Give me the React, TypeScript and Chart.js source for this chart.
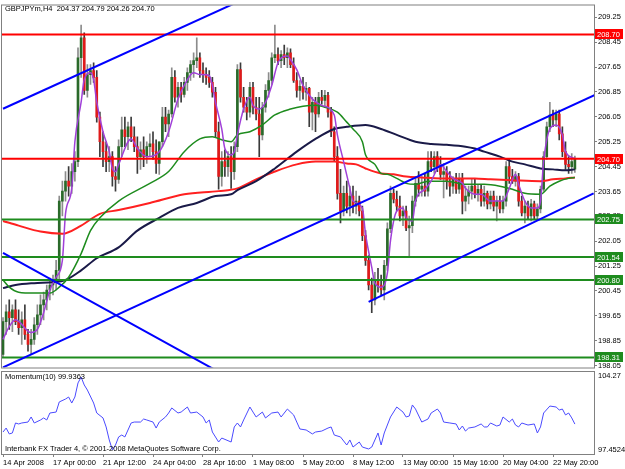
import React, { useEffect, useRef } from "react";
import { Chart, registerables } from "chart.js";

Chart.register(...registerables);

const FONT = '"Liberation Sans", Arial, sans-serif';

const symbolTitle = "GBPJPYm,H4  204.37 204.79 204.26 204.70";
const momentumTitle = "Momentum(10) 99.9363";
const copyrightText = "Interbank FX Trader 4, \u00a9 2001-2008 MetaQuotes Software Corp.";

const dateLabels = [
  "14 Apr 2008", "17 Apr 00:00", "21 Apr 12:00", "24 Apr 04:00", "28 Apr 16:00", "1 May 08:00",
  "5 May 20:00", "8 May 12:00", "13 May 00:00", "15 May 16:00", "20 May 04:00", "22 May 20:00",
];
const dateBars = [0, 16, 32, 48, 64, 80, 96, 112, 128, 144, 160, 176];

const priceTicks = [
  209.25, 208.45, 207.65, 206.85, 206.05, 205.25, 204.45, 203.65,
  202.85, 202.05, 201.25, 200.45, 199.65, 198.85, 198.05,
];
const priceMin = 197.986;
const priceMax = 209.632;
const barMin = -0.32;
const barMax = 189.12;

// [open, high, low, close] per H4 bar
const ohlc: number[][] = [
  [198.41, 199.59, 198.30, 199.46], [199.46, 200.00, 199.05, 199.78], [199.78, 200.16, 199.21, 199.59],
  [199.59, 200.00, 199.14, 199.84], [199.84, 200.16, 199.36, 199.46], [199.46, 199.84, 199.05, 199.27],
  [199.27, 199.78, 198.73, 199.52], [199.52, 200.00, 198.89, 199.05], [199.05, 199.21, 198.51, 198.73],
  [198.73, 199.21, 198.41, 198.89], [198.89, 199.59, 198.73, 199.36], [199.36, 200.00, 199.05, 199.68],
  [199.68, 200.32, 199.36, 200.00], [200.00, 200.41, 199.52, 200.16], [200.16, 200.64, 199.84, 200.48],
  [200.48, 200.86, 200.16, 200.64], [200.64, 200.96, 200.32, 200.80], [200.80, 201.43, 200.48, 201.11],
  [201.11, 203.50, 200.80, 203.34], [203.34, 203.98, 202.86, 203.66], [203.66, 204.29, 203.34, 203.98],
  [203.98, 204.45, 203.50, 203.82], [203.82, 204.55, 203.59, 204.29], [204.29, 204.93, 203.98, 204.61],
  [204.61, 208.27, 204.45, 207.95], [207.95, 209.00, 207.32, 208.59], [208.59, 208.75, 206.77, 206.90],
  [206.90, 207.73, 206.68, 207.41], [207.41, 207.73, 207.09, 207.54], [207.54, 207.79, 207.16, 207.32],
  [207.32, 207.54, 205.88, 206.04], [206.04, 206.20, 204.77, 205.25], [205.25, 205.57, 204.45, 204.93],
  [204.93, 205.25, 204.29, 204.61], [204.61, 205.09, 204.29, 204.77], [204.77, 204.93, 203.82, 204.13],
  [204.13, 204.45, 203.66, 204.04], [204.04, 205.31, 203.91, 205.09], [205.09, 206.04, 204.77, 205.63],
  [205.63, 206.04, 205.09, 205.41], [205.41, 205.88, 204.99, 205.73], [205.73, 206.04, 205.25, 205.41],
  [205.41, 205.73, 204.93, 205.09], [205.09, 205.41, 204.23, 204.77], [204.77, 205.25, 204.36, 204.99],
  [204.99, 205.41, 204.45, 204.77], [204.77, 205.25, 204.55, 205.09], [205.09, 205.50, 204.77, 205.18],
  [205.18, 205.57, 204.68, 204.93], [204.93, 205.31, 204.23, 204.55], [204.55, 205.25, 204.20, 205.25],
  [205.25, 206.36, 205.09, 206.04], [206.04, 206.36, 205.57, 205.82], [205.82, 206.27, 205.41, 206.14],
  [206.14, 207.63, 206.04, 207.32], [207.32, 207.54, 206.52, 206.68], [206.68, 207.16, 206.36, 207.00],
  [207.00, 207.16, 206.52, 206.77], [206.77, 207.32, 206.68, 207.16], [207.16, 207.63, 206.90, 207.47],
  [207.47, 207.86, 207.22, 207.73], [207.73, 208.11, 207.32, 207.86], [207.86, 208.59, 207.63, 207.95],
  [207.95, 208.11, 207.32, 207.54], [207.54, 207.79, 207.16, 207.41], [207.41, 207.63, 207.09, 207.32],
  [207.32, 207.54, 207.00, 207.16], [207.16, 207.32, 206.68, 206.84], [206.84, 207.00, 205.41, 205.57],
  [205.57, 205.88, 203.72, 204.13], [204.13, 204.93, 203.82, 204.61], [204.61, 204.99, 204.13, 204.45],
  [204.45, 204.93, 204.13, 204.77], [204.77, 205.09, 203.75, 204.29], [204.29, 205.25, 204.04, 205.09],
  [205.09, 207.73, 204.93, 207.57], [207.57, 207.79, 206.52, 206.68], [206.68, 207.00, 206.20, 206.36],
  [206.36, 206.68, 205.95, 206.20], [206.20, 207.16, 206.04, 207.00], [207.00, 207.16, 206.14, 206.36],
  [206.36, 206.68, 205.95, 206.14], [206.14, 206.68, 204.77, 205.47], [205.47, 206.52, 205.31, 206.36],
  [206.36, 207.09, 206.20, 206.90], [206.90, 207.47, 206.68, 207.22], [207.22, 208.11, 207.09, 207.95],
  [207.95, 209.00, 207.79, 208.05], [208.05, 208.27, 207.73, 207.86], [207.86, 208.18, 207.63, 208.05],
  [208.05, 208.36, 207.73, 207.95], [207.95, 208.27, 207.63, 208.11], [208.11, 208.24, 207.63, 207.73],
  [207.73, 207.95, 207.16, 207.22], [207.22, 207.47, 206.68, 206.90], [206.90, 207.22, 206.58, 207.03],
  [207.03, 207.32, 206.62, 206.84], [206.84, 207.16, 206.58, 206.97], [206.97, 207.00, 205.73, 206.20],
  [206.20, 206.68, 205.63, 206.52], [206.52, 206.68, 205.57, 206.14], [206.14, 206.84, 206.04, 206.68],
  [206.68, 206.90, 206.46, 206.58], [206.58, 206.90, 206.36, 206.74], [206.74, 206.84, 206.04, 206.20],
  [206.20, 206.36, 205.41, 205.57], [205.57, 205.73, 204.61, 204.77], [204.77, 205.09, 203.40, 203.59],
  [203.59, 204.36, 202.64, 203.02], [203.02, 203.82, 202.86, 203.59], [203.59, 203.98, 202.96, 203.18],
  [203.18, 203.82, 202.86, 203.50], [203.50, 203.82, 202.96, 203.18], [203.18, 203.66, 202.93, 203.34],
  [203.34, 203.50, 202.86, 203.02], [203.02, 203.18, 202.07, 202.23], [202.23, 202.39, 201.27, 201.43],
  [201.43, 201.59, 200.48, 200.64], [200.64, 200.86, 199.75, 200.16], [200.16, 201.05, 200.00, 200.80],
  [200.80, 201.18, 200.41, 200.64], [200.64, 200.96, 200.32, 200.48], [200.48, 201.43, 200.16, 201.27],
  [201.27, 202.64, 201.11, 202.45], [202.45, 203.82, 202.32, 203.59], [203.59, 203.72, 203.28, 203.40],
  [203.40, 203.66, 203.02, 203.18], [203.18, 203.50, 202.70, 202.86], [202.86, 203.18, 202.55, 203.02],
  [203.02, 203.18, 202.39, 202.48], [202.48, 202.86, 201.53, 202.55], [202.55, 203.50, 202.32, 203.34],
  [203.34, 204.13, 203.18, 203.91], [203.91, 204.29, 203.50, 203.72], [203.72, 204.13, 203.50, 203.82],
  [203.82, 204.23, 203.50, 203.66], [203.66, 204.93, 203.50, 204.61], [204.61, 204.93, 204.29, 204.45],
  [204.45, 204.93, 204.23, 204.77], [204.77, 204.93, 204.29, 204.45], [204.45, 204.77, 204.04, 204.20],
  [204.20, 204.55, 203.44, 204.29], [204.29, 204.45, 203.72, 203.98], [203.98, 204.29, 203.50, 203.82],
  [203.82, 204.13, 203.59, 204.04], [204.04, 204.23, 203.59, 203.72], [203.72, 204.23, 203.59, 204.07],
  [204.07, 204.23, 202.93, 203.34], [203.34, 203.82, 203.02, 203.50], [203.50, 203.82, 203.25, 203.66],
  [203.66, 204.04, 203.40, 203.82], [203.82, 204.04, 203.44, 203.59], [203.59, 203.88, 203.34, 203.72],
  [203.72, 203.88, 203.18, 203.34], [203.34, 203.82, 203.18, 203.59], [203.59, 203.66, 203.09, 203.25],
  [203.25, 203.66, 203.09, 203.50], [203.50, 203.66, 203.02, 203.18], [203.18, 203.50, 202.70, 203.34],
  [203.34, 203.50, 202.96, 203.09], [203.09, 203.50, 202.96, 203.34], [203.34, 204.61, 203.18, 204.45],
  [204.45, 204.68, 203.91, 204.13], [204.13, 204.36, 203.91, 203.98], [203.98, 204.29, 203.82, 204.13],
  [204.13, 204.23, 203.18, 203.34], [203.34, 203.50, 202.86, 202.96], [202.96, 203.34, 202.64, 203.18],
  [203.18, 203.34, 202.77, 202.86], [202.86, 203.40, 202.70, 203.25], [203.25, 203.34, 202.77, 202.86],
  [202.86, 203.25, 202.77, 203.09], [203.09, 203.82, 202.96, 203.72], [203.72, 204.93, 203.66, 204.77],
  [204.77, 205.88, 204.68, 205.73], [205.73, 206.52, 205.57, 206.11], [206.11, 206.27, 205.73, 205.95],
  [205.95, 206.27, 205.73, 206.14], [206.14, 206.27, 205.31, 205.50], [205.50, 205.73, 204.77, 204.93],
  [204.93, 205.25, 204.36, 204.52], [204.52, 204.77, 204.23, 204.45], [204.45, 204.87, 204.23, 204.61],
  [204.37, 204.79, 204.26, 204.70],
];

// moving averages: [bar, price]
const maFast: number[][] = [
  [0, 198.89], [2, 199.30], [4, 199.52], [9, 199.11], [11, 199.21], [13, 199.75], [15, 200.48], [17, 200.89],
  [19, 201.43], [20, 202.93], [22, 203.75], [23, 205.25], [25, 206.52], [26, 207.25], [28, 207.47], [29, 207.25],
  [30, 206.52], [32, 205.57], [34, 204.93], [35, 204.39], [36, 204.29], [37, 204.52], [41, 205.34], [43, 205.03],
  [46, 204.77], [50, 204.93], [53, 205.57], [56, 206.62], [58, 207.06], [61, 207.47], [63, 207.41], [66, 207.38],
  [67, 207.06], [68, 206.52], [70, 205.66], [71, 205.03], [73, 204.83], [74, 204.93], [75, 205.47], [77, 206.30],
  [79, 206.68], [80, 206.42], [82, 206.30], [84, 206.52], [86, 207.06], [88, 207.79], [91, 208.01], [92, 207.89],
  [94, 207.57], [96, 207.06], [99, 206.62], [102, 206.42], [106, 206.11], [107, 205.47], [109, 204.61], [111, 203.75],
  [112, 203.34], [115, 203.12], [116, 202.29], [118, 201.21], [119, 200.70], [121, 200.57], [123, 201.02], [124, 202.07],
  [126, 203.02], [128, 203.12], [129, 202.80], [131, 202.70], [132, 203.34], [135, 203.72], [137, 203.98], [139, 204.39],
  [140, 204.52], [142, 204.29], [144, 204.07], [147, 203.91], [148, 203.75], [151, 203.56], [153, 203.56], [156, 203.34],
  [160, 203.34], [162, 203.75], [164, 204.20], [165, 203.88], [167, 203.34], [169, 203.12], [171, 203.12], [172, 203.34],
  [173, 204.61], [175, 205.66], [177, 205.79], [179, 205.47], [180, 204.93], [183, 204.71],
];
const maGreen: number[][] = [
  [0, 200.80], [2, 200.57], [5, 200.41], [10, 200.38], [15, 200.38], [18, 200.57], [21, 200.89], [25, 201.65],
  [28, 202.39], [31, 202.80], [37, 203.34], [47, 203.91], [53, 204.29], [58, 204.93], [63, 205.34], [67, 205.41],
  [70, 205.31], [73, 205.25], [75, 205.47], [79, 205.57], [83, 205.79], [87, 206.11], [92, 206.30], [96, 206.39],
  [100, 206.42], [103, 206.36], [107, 206.20], [110, 205.88], [112, 205.66], [115, 205.25], [116, 204.83], [119, 204.52],
  [121, 204.23], [123, 204.20], [126, 204.07], [129, 203.91], [132, 203.88], [136, 203.98], [142, 203.98], [148, 203.88],
  [154, 203.88], [159, 203.82], [163, 203.72], [167, 203.59], [172, 203.56], [175, 203.82], [178, 203.98], [181, 204.07],
  [183, 204.10],
];
const maNavy: number[][] = [
  [0, 200.54], [4, 200.64], [10, 200.70], [16, 200.73], [20, 200.80], [25, 201.11], [30, 201.50], [37, 201.85],
  [43, 202.39], [50, 202.80], [56, 203.12], [62, 203.28], [68, 203.50], [73, 203.56], [75, 203.69], [81, 203.98],
  [87, 204.39], [94, 204.93], [100, 205.34], [106, 205.66], [110, 205.73], [116, 205.79], [121, 205.66], [126, 205.47],
  [132, 205.25], [137, 205.18], [142, 205.15], [148, 205.09], [151, 205.03], [154, 204.93], [159, 204.77], [163, 204.61],
  [167, 204.52], [172, 204.39], [176, 204.36], [180, 204.33], [183, 204.36],
];
const maRed: number[][] = [
  [0, 202.70], [5, 202.55], [12, 202.36], [19, 202.29], [25, 202.55], [31, 202.93], [37, 203.05], [47, 203.28],
  [58, 203.56], [69, 203.66], [75, 203.75], [81, 204.04], [87, 204.29], [94, 204.52], [100, 204.61], [106, 204.61],
  [110, 204.55], [113, 204.52], [116, 204.39], [121, 204.23], [125, 204.20], [129, 204.13], [134, 204.10], [140, 204.07],
  [151, 204.07], [156, 204.04], [163, 204.01], [172, 203.98], [176, 204.04], [180, 204.07], [183, 204.10],
];

// trend lines: [[bar, price], [bar, price]]
const trendLines: number[][][] = [
  [[0, 206.31], [80, 209.97]],
  [[0, 197.99], [190, 206.78]],
  [[117, 200.10], [189, 203.59]],
  [[0, 201.67], [70, 197.79]],
];

const levels = [208.70, 204.70, 202.75, 201.54, 200.80, 198.31];
const levelColors = ["#ff0000", "#ff0000", "#1e8c1e", "#1e8c1e", "#1e8c1e", "#1e8c1e"];

const momentumMin = 97.4524;
const momentumMax = 104.27;
const momentum: number[][] = [
  [0, 99.28], [1, 99.61], [2, 99.12], [3, 99.20], [4, 100.03], [5, 99.95], [6, 100.03], [8, 100.11], [9, 100.53],
  [10, 100.03], [12, 100.28], [13, 100.45], [14, 100.28], [15, 100.86], [17, 100.94], [18, 101.78], [20, 102.02],
  [21, 102.19], [22, 101.69], [23, 102.19], [24, 103.36], [25, 103.85], [26, 103.19], [27, 102.77], [29, 101.69],
  [30, 100.86], [32, 100.45], [33, 99.70], [34, 98.62], [35, 97.79], [36, 98.20], [37, 98.87], [38, 99.03],
  [39, 98.87], [41, 100.03], [42, 100.11], [44, 100.11], [45, 100.36], [46, 100.28], [48, 100.11], [49, 99.61],
  [50, 100.11], [52, 100.53], [53, 100.86], [54, 101.28], [56, 100.86], [57, 100.94], [59, 101.36], [60, 100.86],
  [62, 100.94], [64, 100.53], [65, 100.03], [66, 100.28], [67, 99.28], [69, 98.45], [70, 98.78], [73, 98.45],
  [74, 99.70], [75, 100.03], [76, 99.70], [77, 100.28], [79, 101.36], [80, 100.94], [81, 100.53], [83, 100.94],
  [84, 100.45], [86, 100.86], [88, 100.94], [89, 100.53], [91, 101.19], [93, 100.70], [94, 100.11], [95, 99.53],
  [97, 99.45], [99, 99.12], [100, 99.28], [102, 99.36], [104, 99.61], [105, 99.70], [106, 99.03], [108, 98.87],
  [110, 98.20], [111, 98.62], [112, 98.03], [114, 98.45], [115, 98.03], [117, 97.87], [118, 98.03], [120, 99.20],
  [121, 98.20], [122, 99.20], [124, 100.53], [126, 101.36], [128, 100.94], [129, 100.53], [130, 100.61], [131, 101.53],
  [132, 101.19], [134, 100.11], [136, 100.36], [137, 100.86], [139, 101.19], [140, 100.86], [141, 100.11], [143, 100.03],
  [145, 99.95], [146, 99.45], [147, 99.78], [148, 99.36], [149, 99.61], [151, 99.70], [153, 99.95], [154, 99.70],
  [155, 99.70], [156, 100.03], [158, 99.78], [159, 99.86], [160, 100.53], [162, 100.11], [163, 100.36], [164, 99.86],
  [165, 99.70], [166, 100.03], [168, 99.86], [170, 99.95], [171, 99.20], [172, 99.70], [173, 100.86], [175, 101.44],
  [177, 101.36], [178, 101.11], [179, 101.19], [180, 100.70], [181, 100.86], [182, 100.45], [183, 99.94],
];

const BULL_BODY = "#2a6a2a";
const BEAR_BODY = "#e01a1a";
const BULL_WICK = "#8c8c8c";
const BEAR_WICK = "#3a3a3a";
const FRAME = "#808080";

function lineDataset(pts: number[][], color: string, width: number, order: number, smooth: boolean) {
  return {
    type: "line" as const,
    data: pts.map(([x, y]) => ({ x, y })),
    borderColor: color,
    borderWidth: width,
    pointRadius: 0,
    fill: false,
    cubicInterpolationMode: smooth ? ("monotone" as const) : ("default" as const),
    tension: smooth ? 0.4 : 0,
    order,
  };
}

const mainPlugin = {
  id: "mainDecor",
  afterDraw(chart: any) {
    const { ctx, chartArea: a, scales } = chart;
    const y = scales.y;
    ctx.save();
    ctx.strokeStyle = FRAME;
    ctx.lineWidth = 1;
    ctx.strokeRect(a.left - 0.5, a.top - 0.5, a.right - a.left + 1, a.bottom - a.top + 1);
    ctx.font = `7.5px ${FONT}`;
    ctx.textBaseline = "middle";
    ctx.textAlign = "left";
    ctx.fillStyle = "#000";
    ctx.fillText(symbolTitle, 5, 9);
    levels.forEach((v, i) => {
      const py = Math.round(y.getPixelForValue(v));
      ctx.fillStyle = levelColors[i];
      ctx.fillRect(a.right + 1, py - 5, 28, 10);
      ctx.fillStyle = "#fff";
      ctx.fillText(v.toFixed(2), a.right + 3, py + 0.5);
    });
    ctx.restore();
  },
};

const momPlugin = {
  id: "momDecor",
  afterDraw(chart: any) {
    const { ctx, chartArea: a } = chart;
    ctx.save();
    ctx.strokeStyle = FRAME;
    ctx.lineWidth = 1;
    ctx.strokeRect(a.left - 0.5, a.top - 0.5, a.right - a.left + 1, a.bottom - a.top + 1);
    ctx.font = `7.5px ${FONT}`;
    ctx.textBaseline = "middle";
    ctx.textAlign = "left";
    ctx.fillStyle = "#000";
    ctx.fillText(momentumTitle, 5, a.top + 5);
    ctx.fillText(copyrightText, 5, a.bottom - 5);
    ctx.fillText(String(momentumMax), a.right + 4, a.top + 4);
    ctx.fillText(String(momentumMin), a.right + 4, a.bottom - 4);
    ctx.restore();
  },
};

export default function App() {
  const mainRef = useRef<HTMLCanvasElement>(null);
  const momRef = useRef<HTMLCanvasElement>(null);

  useEffect(() => {
    const isBull = (c: number[]) => c[3] >= c[0];
    const tickFont = { family: FONT, size: 7.5 };

    const datasets: any[] = [
      ...levels.map((v, i) => ({
        type: "line",
        data: [{ x: barMin - 2, y: v }, { x: barMax + 2, y: v }],
        borderColor: levelColors[i],
        borderWidth: 2,
        pointRadius: 0,
        order: 1,
      })),
      ...trendLines.map((t) => lineDataset(t, "#0000ff", 2, 0, false)),
      lineDataset(maFast, "#a040d8", 1.5, 2, true),
      lineDataset(maGreen, "#1e8c1e", 1.5, 3, true),
      lineDataset(maNavy, "#1a1a48", 2, 4, true),
      lineDataset(maRed, "#ff2020", 2, 5, true),
      {
        type: "bar",
        data: ohlc.map((c, i) => ({ x: i, y: [Math.min(c[0], c[3]), Math.max(c[0], c[3])] })),
        backgroundColor: ohlc.map((c) => (isBull(c) ? BULL_BODY : BEAR_BODY)),
        barThickness: 2,
        grouped: false,
        minBarLength: 1,
        order: 8,
      },
      {
        type: "bar",
        data: ohlc.map((c, i) => ({ x: i, y: [c[2], c[1]] })),
        backgroundColor: ohlc.map((c) => (isBull(c) ? BULL_WICK : BEAR_WICK)),
        barThickness: 1,
        grouped: false,
        order: 9,
      },
    ];

    const main = new Chart(mainRef.current!, {
      type: "line",
      data: { datasets },
      options: {
        animation: false,
        responsive: false,
        maintainAspectRatio: false,
        devicePixelRatio: 1,
        events: [],
        layout: { padding: { left: 2, top: 2, bottom: 5, right: 0 } },
        plugins: { legend: { display: false }, tooltip: { enabled: false } },
        scales: {
          x: { type: "linear", min: barMin, max: barMax, display: false, offset: false },
          y: {
            position: "right",
            min: priceMin,
            max: priceMax,
            afterFit: (s: any) => { s.width = 31; },
            afterBuildTicks: (s: any) => { s.ticks = priceTicks.map((v) => ({ value: v })); },
            grid: { drawOnChartArea: false, tickLength: 3, color: FRAME },
            border: { color: FRAME },
            ticks: {
              font: tickFont,
              color: "#000",
              padding: 1,
              autoSkip: false,
              callback: (v: any) => Number(v).toFixed(2),
            },
          },
        },
      } as any,
      plugins: [mainPlugin],
    } as any);

    const mom = new Chart(momRef.current!, {
      type: "line",
      data: {
        datasets: [
          {
            data: momentum.map(([x, y]) => ({ x, y })),
            borderColor: "#4a4aff",
            borderWidth: 1,
            pointRadius: 0,
            tension: 0,
          },
        ],
      },
      options: {
        animation: false,
        responsive: false,
        maintainAspectRatio: false,
        devicePixelRatio: 1,
        events: [],
        layout: { padding: { left: 2, top: 2, bottom: 0, right: 0 } },
        plugins: { legend: { display: false }, tooltip: { enabled: false } },
        scales: {
          x: {
            type: "linear",
            min: barMin,
            max: barMax,
            offset: false,
            afterFit: (s: any) => { s.height = 15; },
            afterBuildTicks: (s: any) => { s.ticks = dateBars.map((v) => ({ value: v })); },
            grid: { drawOnChartArea: false, tickLength: 3, color: FRAME },
            border: { color: FRAME },
            ticks: {
              font: tickFont,
              color: "#000",
              padding: 1,
              align: "start",
              autoSkip: false,
              maxRotation: 0,
              minRotation: 0,
              callback: (v: any) => {
                const i = dateBars.indexOf(Number(v));
                return i >= 0 ? dateLabels[i] : "";
              },
            },
          },
          y: {
            position: "right",
            min: momentumMin,
            max: momentumMax,
            afterFit: (s: any) => { s.width = 31; },
            grid: { display: false },
            border: { color: FRAME },
            ticks: { display: false },
          },
        },
      } as any,
      plugins: [momPlugin],
    } as any);

    return () => {
      main.destroy();
      mom.destroy();
    };
  }, []);

  return (
    <div style={{ position: "fixed", left: 0, top: 0, width: 625, height: 469, background: "#fff" }}>
      <canvas
        ref={mainRef}
        width={625}
        height={373}
        style={{ position: "absolute", left: 0, top: 0, width: 625, height: 373 }}
      />
      <canvas
        ref={momRef}
        width={625}
        height={99}
        style={{ position: "absolute", left: 0, top: 370, width: 625, height: 99 }}
      />
    </div>
  );
}
